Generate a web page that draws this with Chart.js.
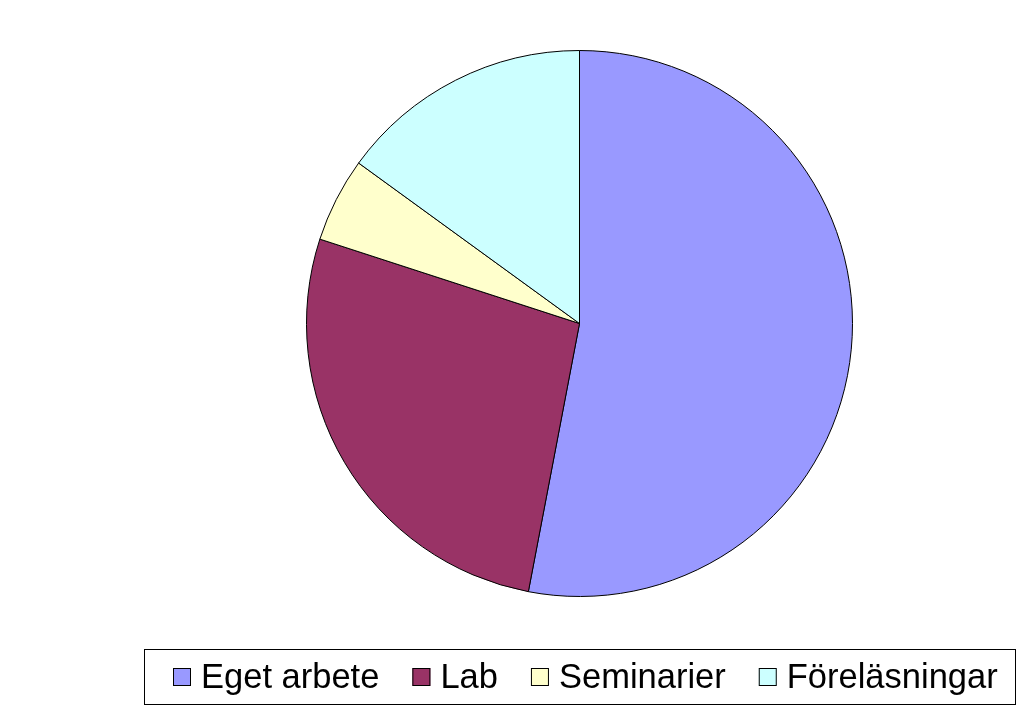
<!DOCTYPE html>
<html>
<head>
<meta charset="utf-8">
<script src="https://cdn.jsdelivr.net/npm/chart.js@4/dist/chart.umd.min.js"></script>
<style>
  html, body { margin: 0; padding: 0; background: #fff; }
  #wrap { width: 1024px; height: 710px; position: relative; }
</style>
</head>
<body>
<div id="wrap"><canvas id="pieChart"></canvas></div>
<script>
// andel av tiden per moment (procent)
const categories = ['Eget arbete', 'Lab', 'Seminarier', 'Föreläsningar'];
const values = [53, 27, 5, 15];
const sliceColors = ['#9999FF', '#993366', '#FFFFCC', '#CCFFFF'];

// egen legend i Excel-stil: ram, små rutor, tät text
const excelLegend = {
  id: 'excelLegend',
  afterDraw(chart) {
    const ctx = chart.ctx;
    const labels = chart.data.labels;
    const colors = chart.data.datasets[0].backgroundColor;
    const box = 18, gapText = 10, gapItem = 33;
    ctx.save();
    ctx.font = "34.5px 'Liberation Sans', Arial, sans-serif";
    ctx.textBaseline = 'alphabetic';
    let total = 0;
    const widths = labels.map(l => ctx.measureText(l).width);
    widths.forEach((w, i) => { total += box + gapText + w + (i < widths.length - 1 ? gapItem : 0); });
    let x = Math.round(585 - total / 2);

    // ram
    ctx.strokeStyle = '#000';
    ctx.lineWidth = 1;
    ctx.strokeRect(144.5, 649.5, 871, 55);

    labels.forEach((l, i) => {
      ctx.fillStyle = colors[i];
      ctx.fillRect(x, 668, box, box);
      ctx.strokeStyle = '#000';
      ctx.strokeRect(x + 0.5, 668.5, box - 1, box - 1);
      ctx.fillStyle = '#000';
      ctx.fillText(l, x + box + gapText, 688);
      x += box + gapText + widths[i] + gapItem;
    });
    ctx.restore();
  }
};

const CHART = document.getElementById('pieChart');
const pieChart = new Chart(CHART, {
  type: 'pie',
  data: {
    labels: categories,
    datasets: [{
      data: values,
      backgroundColor: sliceColors,
      borderColor: '#000',
      borderWidth: 1,
      radius: 273
    }]
  },
  options: {
    responsive: true,
    maintainAspectRatio: false,
    animation: false,
    layout: { padding: { left: 135, right: 0, top: 0, bottom: 63 } },
    plugins: {
      tooltip: { enabled: false },
      legend: { display: false }
    }
  },
  plugins: [excelLegend]
});
</script>
</body>
</html>
